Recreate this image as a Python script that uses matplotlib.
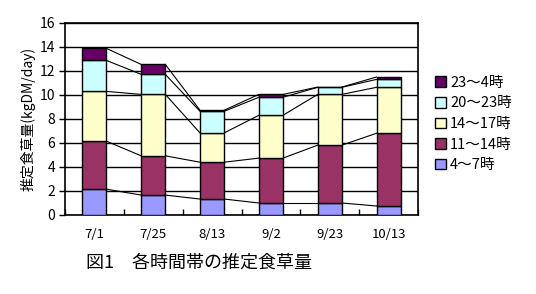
import matplotlib
matplotlib.use("Agg")
import matplotlib.pyplot as plt
import numpy as np

plt.rcParams['font.family'] = ['Noto Sans CJK JP', 'DejaVu Sans']

dates = ["7/1", "7/25", "8/13", "9/2", "9/23", "10/13"]
series_names = ["4～7時", "11～14時", "14～17時", "20～23時", "23～4時"]
s_4_7 = [2.15, 1.66, 1.33, 1.00, 1.00, 0.75]
s_11_14 = [4.00, 3.27, 3.07, 3.74, 4.82, 6.06]
s_14_17 = [4.15, 5.12, 2.44, 3.57, 4.23, 3.83]
s_20_23 = [2.58, 1.67, 1.80, 1.50, 0.59, 0.66]
s_23_4 = [1.00, 0.83, 0.09, 0.24, 0.02, 0.20]
colors = ["#9999FF", "#993366", "#FFFFCC", "#CCFFFF", "#660066"]
yticks = [0, 2, 4, 6, 8, 10, 12, 14, 16]

data = [s_4_7, s_11_14, s_14_17, s_20_23, s_23_4]

fig = plt.figure(figsize=(5.36, 2.94), dpi=100)
ax = fig.add_axes([65/536, 1-215/294, 353/536, 192/294])

x = np.arange(len(dates))
w = 0.41
bottom = np.zeros(len(dates))
handles = []
for vals, name, c in zip(data, series_names, colors):
    vals = np.array(vals)
    b = ax.bar(x, vals, w, bottom=bottom, color=c, edgecolor='black', linewidth=1.0, label=name, zorder=3)
    handles.append(b)
    bottom = bottom + vals
    # series lines
    for i in range(len(dates)-1):
        ax.plot([x[i]+w/2, x[i+1]-w/2], [bottom[i], bottom[i+1]], color='black', lw=0.8, zorder=2)

ax.set_xlim(-0.5, len(dates)-0.5)
ax.set_ylim(0, 16)
ax.set_yticks(yticks)
ax.yaxis.grid(True, color='black', lw=1.0, zorder=0)
ax.set_axisbelow(True)
ax.set_xticks(x)
ax.set_xticklabels(dates, fontsize=9.5)
ax.tick_params(axis='x', length=0, pad=9)
ax.set_xticks(np.arange(-0.5, len(dates)), minor=True)
ax.tick_params(axis='x', which='minor', direction='in', length=4, width=1)
ax.tick_params(axis='y', labelsize=10, length=4, width=1, direction='out', pad=3)
for s in ax.spines.values():
    s.set_linewidth(1.2)
    s.set_color('black')

ax.set_ylabel("推定食草量(kgDM/day)", fontsize=10, labelpad=3)

leg = fig.legend(handles[::-1], series_names[::-1], loc='upper left',
                 bbox_to_anchor=(429/536, 1-70/294), frameon=False,
                 fontsize=10.5, handlelength=0.75, handleheight=0.75,
                 handletextpad=0.3, labelspacing=0.45, borderaxespad=0)

fig.text(86/536, 1-263/294, "図1　各時間帯の推定食草量", fontsize=13, va='center', ha='left')

fig.savefig("out.png", dpi=100)
